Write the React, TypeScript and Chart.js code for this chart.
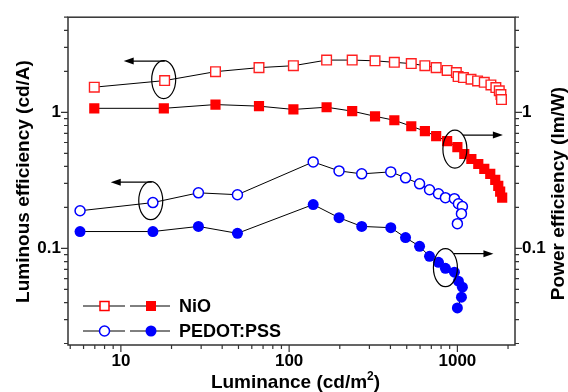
import React, { useEffect, useRef } from 'react';
import { Chart, registerables } from 'chart.js';

Chart.register(...registerables);

// ---- Data ----
// NiO: luminous efficiency (open squares, left axis)
const nioLumLE = [6.95, 18.2, 36.5, 66.2, 106, 167, 237, 324, 422, 532, 641, 748, 869, 986, 1010, 1086, 1205, 1318, 1445, 1582, 1693, 1774, 1815, 1828];
const nioLE = [1.53, 1.71, 1.99, 2.13, 2.2, 2.42, 2.42, 2.39, 2.33, 2.28, 2.2, 2.13, 2.03, 1.96, 1.83, 1.8, 1.75, 1.7, 1.66, 1.59, 1.52, 1.44, 1.35, 1.24];
// NiO: power efficiency (filled squares, right axis)
const nioLumPE = [6.95, 18.0, 36.5, 66.2, 106, 167, 237, 324, 422, 532, 641, 748, 869, 1000, 1099, 1211, 1331, 1445, 1568, 1679, 1750, 1796, 1846];
const nioPE = [1.07, 1.07, 1.14, 1.11, 1.05, 1.09, 1.02, 0.935, 0.874, 0.79, 0.727, 0.668, 0.614, 0.555, 0.494, 0.454, 0.417, 0.384, 0.353, 0.319, 0.288, 0.261, 0.236];
// PEDOT:PSS (shared luminance)
const pedotLum = [5.72, 15.5, 28.9, 49.3, 139, 198, 270, 402, 492, 596, 683, 772, 849, 960, 1014, 1071, 1057, 1000];
const pedotLE = [0.189, 0.217, 0.256, 0.248, 0.432, 0.371, 0.353, 0.365, 0.33, 0.298, 0.27, 0.252, 0.236, 0.232, 0.213, 0.203, 0.18, 0.152];
const pedotPE = [0.133, 0.133, 0.145, 0.129, 0.21, 0.168, 0.145, 0.142, 0.12, 0.1035, 0.0874, 0.079, 0.0714, 0.0668, 0.0574, 0.0519, 0.0438, 0.0365];

const xTickLabels = [10, 100, 1000];
const yTickLabels = [0.1, 1];
const xMin = 4.85;
const xMax = 2200;
const yMin = 0.0195;
const yMax = 5;

const legendLabels = ['NiO', 'PEDOT:PSS'];
const legendColors = ['#ff0000', '#0000ff'];

// ellipse annotations: centre in data coordinates, arrow direction
const noteLum = [17.97, 15.05, 966.5, 849];
const noteEff = [1.741, 0.2241, 0.537, 0.0721];
const noteDir = [-1, -1, 1, 1];

const xTitle = 'Luminance (cd/m';
const yTitle = 'Luminous efficiency (cd/A)';
const y2Title = 'Power efficiency (lm/W)';

const FONT = '"Liberation Sans", Arial, sans-serif';

function pts(xs: number[], ys: number[]) {
  return xs.map((x, i) => ({ x, y: ys[i] }));
}

function labelFor(list: number[]) {
  return (v: any) => {
    const n = Number(v);
    const hit = list.find((l) => Math.abs(n / l - 1) < 1e-6);
    return hit === undefined ? '' : String(hit);
  };
}

function logTicks(min: number, max: number) {
  const out: { v: number; major: boolean }[] = [];
  for (let e = Math.floor(Math.log10(min)); e <= Math.ceil(Math.log10(max)); e++) {
    for (let d = 1; d <= 9; d++) {
      const v = d * Math.pow(10, e);
      if (v >= min * 0.999 && v <= max * 1.001) out.push({ v, major: d === 1 });
    }
  }
  return out;
}

function drawArrow(ctx: CanvasRenderingContext2D, x0: number, x1: number, y: number) {
  const dir = Math.sign(x1 - x0);
  ctx.beginPath();
  ctx.moveTo(x0, y);
  ctx.lineTo(x1 - dir * 7, y);
  ctx.stroke();
  ctx.beginPath();
  ctx.moveTo(x1, y);
  ctx.lineTo(x1 - dir * 10, y - 3.5);
  ctx.lineTo(x1 - dir * 10, y + 3.5);
  ctx.closePath();
  ctx.fill();
}

const decorPlugin = {
  id: 'decor',
  afterDraw(chart: any) {
    const ctx: CanvasRenderingContext2D = chart.ctx;
    const a = chart.chartArea;
    const sx = chart.scales.x;
    const sy = chart.scales.y;
    const sy2 = chart.scales.y2;
    ctx.save();
    // frame
    ctx.strokeStyle = '#333';
    ctx.lineWidth = 1.5;
    ctx.strokeRect(a.left, a.top, a.right - a.left, a.bottom - a.top);
    // ticks
    ctx.lineWidth = 1.2;
    ctx.beginPath();
    for (const t of logTicks(xMin, xMax)) {
      const px = sx.getPixelForValue(t.v);
      ctx.moveTo(px, a.bottom);
      ctx.lineTo(px, a.bottom + (t.major ? 7 : 4));
    }
    for (const t of logTicks(yMin, yMax)) {
      const py = sy.getPixelForValue(t.v);
      ctx.moveTo(a.left, py);
      ctx.lineTo(a.left - (t.major ? 7 : 4), py);
      const py2 = sy2.getPixelForValue(t.v);
      ctx.moveTo(a.right, py2);
      ctx.lineTo(a.right + (t.major ? 7 : 4), py2);
    }
    ctx.stroke();

    // axis titles
    ctx.fillStyle = '#000';
    ctx.font = `bold 19px ${FONT}`;
    ctx.textBaseline = 'alphabetic';
    const w1 = ctx.measureText(xTitle).width;
    ctx.font = `bold 12px ${FONT}`;
    const w2 = ctx.measureText('2').width;
    ctx.font = `bold 19px ${FONT}`;
    const w3 = ctx.measureText(')').width;
    const total = w1 + w2 + w3;
    const cx = (a.left + a.right) / 2 + 4;
    let tx = cx - total / 2;
    const by = 388;
    ctx.textAlign = 'left';
    ctx.fillText(xTitle, tx, by);
    tx += w1;
    ctx.font = `bold 12px ${FONT}`;
    ctx.fillText('2', tx, by - 8);
    tx += w2;
    ctx.font = `bold 19px ${FONT}`;
    ctx.fillText(')', tx, by);

    ctx.textAlign = 'center';
    ctx.textBaseline = 'middle';
    ctx.save();
    ctx.translate(23.5, 181.5);
    ctx.rotate(-Math.PI / 2);
    ctx.fillText(yTitle, 0, 0);
    ctx.restore();
    ctx.save();
    ctx.translate(558.5, 193.5);
    ctx.rotate(-Math.PI / 2);
    ctx.fillText(y2Title, 0, 0);
    ctx.restore();

    // legend
    const rows = [306, 331];
    ctx.font = `bold 18px ${FONT}`;
    ctx.textAlign = 'left';
    rows.forEach((ry, i) => {
      const col = legendColors[i];
      ctx.strokeStyle = '#000';
      ctx.lineWidth = 1;
      ctx.beginPath();
      ctx.moveTo(83, ry);
      ctx.lineTo(125, ry);
      ctx.moveTo(130, ry);
      ctx.lineTo(170, ry);
      ctx.stroke();
      ctx.lineWidth = 1.5;
      ctx.strokeStyle = col;
      ctx.fillStyle = '#fff';
      if (i === 0) {
        ctx.fillRect(100, ry - 4.5, 9, 9);
        ctx.strokeRect(100, ry - 4.5, 9, 9);
        ctx.fillStyle = col;
        ctx.fillRect(146, ry - 5, 10, 10);
      } else {
        ctx.beginPath();
        ctx.arc(104.5, ry, 5, 0, Math.PI * 2);
        ctx.fill();
        ctx.stroke();
        ctx.fillStyle = col;
        ctx.beginPath();
        ctx.arc(151, ry, 5.5, 0, Math.PI * 2);
        ctx.fill();
      }
      ctx.fillStyle = '#000';
      ctx.fillText(legendLabels[i], 179, ry + 1);
    });

    // annotations
    ctx.strokeStyle = '#000';
    ctx.fillStyle = '#000';
    ctx.lineWidth = 1.2;
    noteLum.forEach((lum, i) => {
      const ex = sx.getPixelForValue(lum);
      const ey = (i < 2 ? sy : sy2).getPixelForValue(noteEff[i]);
      ctx.beginPath();
      ctx.ellipse(ex, ey, 12, 19, 0, 0, Math.PI * 2);
      ctx.stroke();
      if (noteDir[i] < 0) {
        const ay = ey - 18.5;
        drawArrow(ctx, ex + 1, ex - 40, ay);
      } else {
        const ay = ey - 14;
        drawArrow(ctx, ex + 8, ex + 48, ay);
      }
    });
    ctx.restore();
  },
};

export default function App() {
  const ref = useRef<HTMLCanvasElement | null>(null);
  useEffect(() => {
    document.body.style.margin = '0';
    const canvas = ref.current;
    if (!canvas) return;
    const tickFont = { family: FONT, size: 17, weight: 'bold' as const };
    const lineCommon = {
      showLine: true,
      borderColor: '#000',
      borderWidth: 1,
      tension: 0,
    };
    const chart = new Chart(canvas, {
      type: 'scatter',
      data: {
        datasets: [
          {
            ...lineCommon,
            label: 'NiO LE',
            data: pts(nioLumLE, nioLE),
            yAxisID: 'y',
            pointStyle: 'rect',
            pointRadius: 6.8,
            pointBackgroundColor: '#fff',
            pointBorderColor: '#ff2020',
            pointBorderWidth: 1.4,
          },
          {
            ...lineCommon,
            label: 'NiO PE',
            data: pts(nioLumPE, nioPE),
            yAxisID: 'y2',
            pointStyle: 'rect',
            pointRadius: 7.2,
            pointBackgroundColor: '#ff0000',
            pointBorderColor: '#ff0000',
            pointBorderWidth: 0,
          },
          {
            ...lineCommon,
            label: 'PEDOT LE',
            data: pts(pedotLum, pedotLE),
            yAxisID: 'y',
            pointStyle: 'circle',
            pointRadius: 5,
            pointBackgroundColor: '#fff',
            pointBorderColor: '#0000ff',
            pointBorderWidth: 1.5,
          },
          {
            ...lineCommon,
            label: 'PEDOT PE',
            data: pts(pedotLum, pedotPE),
            yAxisID: 'y2',
            pointStyle: 'circle',
            pointRadius: 5.5,
            pointBackgroundColor: '#0000ff',
            pointBorderColor: '#0000ff',
            pointBorderWidth: 0,
          },
        ],
      },
      options: {
        animation: false,
        responsive: false,
        devicePixelRatio: 1,
        layout: { padding: { top: 15, left: 0, right: 0, bottom: 0 } },
        plugins: { legend: { display: false }, tooltip: { enabled: false } },
        scales: {
          x: {
            type: 'logarithmic',
            position: 'bottom',
            min: xMin,
            max: xMax,
            grid: { display: false, drawTicks: false },
            border: { display: false },
            ticks: { autoSkip: false, maxRotation: 0, padding: 6, color: '#000', font: tickFont, callback: labelFor(xTickLabels) },
            afterFit: (s: any) => { s.height = 47; },
          },
          y: {
            type: 'logarithmic',
            position: 'left',
            min: yMin,
            max: yMax,
            grid: { display: false, drawTicks: false },
            border: { display: false },
            ticks: { autoSkip: false, padding: 7, color: '#000', font: tickFont, callback: labelFor(yTickLabels) },
            afterFit: (s: any) => { s.width = 68; },
          },
          y2: {
            type: 'logarithmic',
            position: 'right',
            min: yMin,
            max: yMax,
            grid: { display: false, drawTicks: false },
            border: { display: false },
            ticks: { autoSkip: false, padding: 7, color: '#000', font: tickFont, callback: labelFor(yTickLabels) },
            afterFit: (s: any) => { s.width = 53; },
          },
        },
      } as any,
      plugins: [decorPlugin],
    });
    return () => chart.destroy();
  }, []);
  return (
    <div style={{ width: 568, height: 392 }}>
      <canvas ref={ref} width={568} height={392} style={{ width: 568, height: 392, display: 'block' }} />
    </div>
  );
}
